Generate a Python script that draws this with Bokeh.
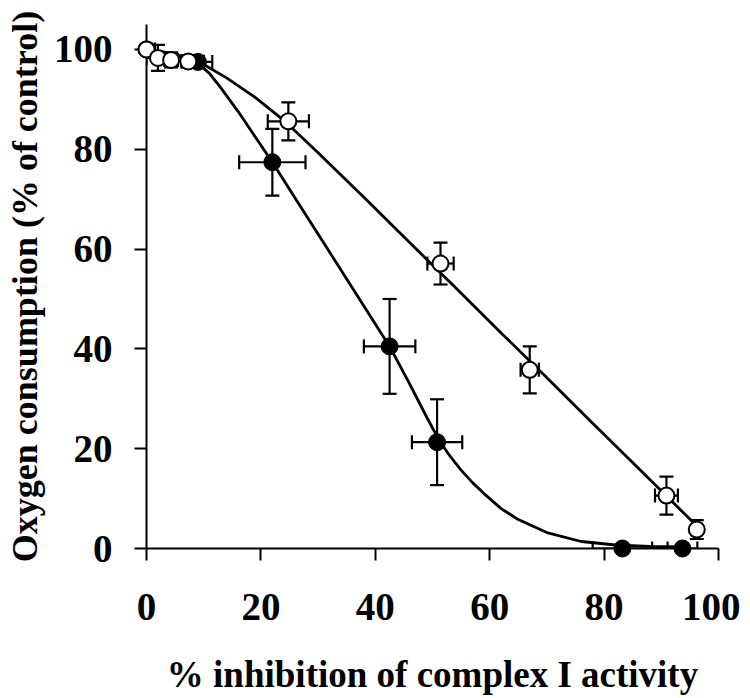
from bokeh.plotting import figure
from bokeh.models import (Range1d, LinearAxis, FixedTicker, Whisker, TeeHead,
                          ColumnDataSource)
from bokeh.embed import file_html
from bokeh.resources import INLINE

# ---- data ----
open_x = [0, 2.0, 4.3, 7.3, 24.8, 51.4, 67.0, 90.9, 96.2]
open_y = [100, 98.3, 97.9, 97.6, 85.6, 57.1, 35.8, 10.6, 3.8]
open_xerr = [1.5, 2.0, 1.2, 1.2, 3.6, 2.3, 1.6, 2.0, 0.8]
open_yerr = [1.0, 2.6, 1.5, 1.2, 3.8, 4.2, 4.7, 3.8, 1.9]

filled_x = [0, 9.0, 22.0, 42.5, 50.8, 83.2, 93.7]
filled_y = [100, 97.5, 77.4, 40.5, 21.3, 0.0, 0.0]
filled_xerr = [1.0, 2.5, 5.8, 4.5, 4.4, 5.2, 2.6]
filled_yerr = [0.8, 1.2, 6.7, 9.5, 8.6, 0.4, 0.4]

# fitted curves
open_curve_x = [0, 4, 7, 10, 14, 19, 24, 30, 38, 46, 54, 62, 70, 78, 86, 91, 96.5]
open_curve_y = [100, 99.3, 98.4, 97.0, 94.3, 90.4, 85.8, 79.3, 70.4, 61.3, 52.3,
                43.2, 34.2, 25.1, 16.1, 10.4, 4.2]
filled_curve_x = [0, 4, 7, 9, 11, 13, 16, 22, 27, 32, 37, 42.5, 46, 49, 51, 53,
                  55, 57, 59, 62, 65, 70, 76, 82, 88, 93.7]
filled_curve_y = [100, 99.2, 98.2, 97.2, 95.2, 92.3, 87.6, 77.4, 68.4, 59.4, 50.4,
                  40.5, 33.0, 26.3, 22.0, 18.6, 15.7, 13.2, 11.0, 8.0, 5.8, 3.2,
                  1.4, 0.7, 0.4, 0.3]

ticks = [0, 20, 40, 60, 80, 100]
x_label = "% inhibition of complex I activity"
y_label = "Oxygen consumption (% of control)"

# ---- layout ----
W, H = 740, 698
FL, FR, FT, FB = 146, 718, 24, 548          # frame edges (canvas px)

p = figure(width=W, height=H, output_backend="svg", toolbar_location=None,
           x_range=Range1d(0, 100), y_range=Range1d(0, 105),
           x_axis_location=None, y_axis_location=None,
           min_border_left=FL, min_border_right=W - FR,
           min_border_top=FT, min_border_bottom=H - FB)
p.grid.visible = False
p.outline_line_color = None
p.background_fill_color = "white"
p.border_fill_color = "white"

FONT = "Liberation Serif"

xa = LinearAxis(ticker=FixedTicker(ticks=ticks))
ya = LinearAxis(ticker=FixedTicker(ticks=ticks))
for ax in (xa, ya):
    ax.axis_line_width = 2
    ax.major_tick_line_width = 2
    ax.major_tick_in = 0
    ax.major_tick_out = 12
    ax.minor_tick_line_color = None
    ax.major_label_text_font = FONT
    ax.major_label_text_font_style = "bold"
    ax.major_label_text_font_size = "39px"
    ax.major_label_text_color = "black"
    ax.axis_label_text_font = FONT
    ax.axis_label_text_font_style = "bold"
    ax.axis_label_text_color = "black"
xa.axis_label_text_font_size = "37px"
ya.axis_label_text_font_size = "36px"
xa.axis_label = x_label
ya.axis_label = y_label
xa.major_label_standoff = 33
xa.axis_label_standoff = 31
ya.major_label_standoff = 22
ya.axis_label_standoff = 6
p.add_layout(xa, "below")
p.add_layout(ya, "left")

def add_errors(xs, ys, xe, ye):
    src = ColumnDataSource(dict(
        x=xs, y=ys,
        xlo=[a - b for a, b in zip(xs, xe)], xhi=[a + b for a, b in zip(xs, xe)],
        ylo=[a - b for a, b in zip(ys, ye)], yhi=[a + b for a, b in zip(ys, ye)]))
    for dim, base, lo, hi in (("height", "x", "ylo", "yhi"), ("width", "y", "xlo", "xhi")):
        w = Whisker(source=src, base=base, lower=lo, upper=hi, dimension=dim,
                    line_width=2.2, line_color="black", level="annotation",
                    upper_head=TeeHead(size=14, line_width=2.2, line_color="black"),
                    lower_head=TeeHead(size=14, line_width=2.2, line_color="black"))
        p.add_layout(w)

add_errors(filled_x, filled_y, filled_xerr, filled_yerr)
add_errors(open_x, open_y, open_xerr, open_yerr)

p.line(filled_curve_x, filled_curve_y, line_color="black", line_width=2.8,
       level="overlay")
p.line(open_curve_x, open_curve_y, line_color="black", line_width=2.8,
       level="overlay")

p.scatter(filled_x, filled_y, marker="circle", size=17, fill_color="black",
          line_color="black", line_width=1, level="overlay")
p.scatter(open_x, open_y, marker="circle", size=16, fill_color="white",
          line_color="black", line_width=2, level="overlay")

open("out.html", "w").write(file_html(p, INLINE))
